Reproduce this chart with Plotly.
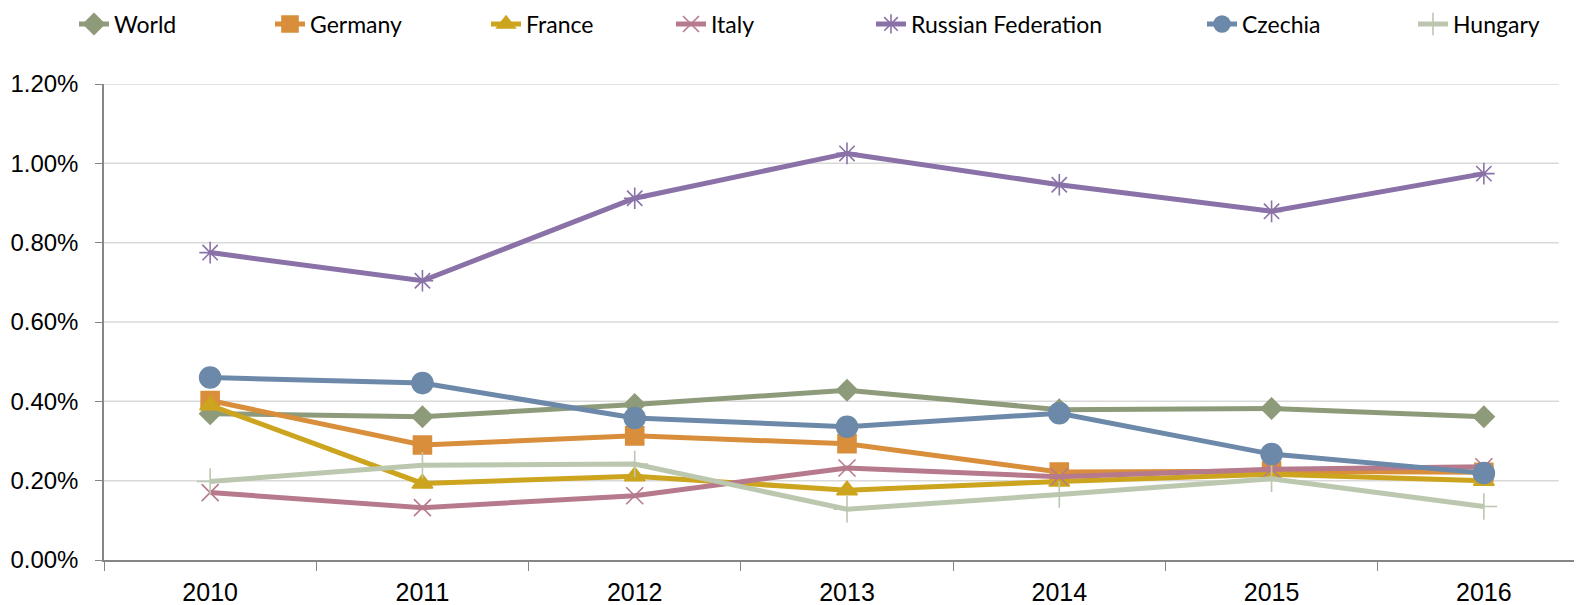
import plotly.graph_objects as go

years = ["2010", "2011", "2012", "2013", "2014", "2015", "2016"]
world = [0.00369, 0.00361, 0.00392, 0.00428, 0.00379, 0.00382, 0.00361]
germany = [0.00402, 0.00290, 0.00313, 0.00293, 0.00222, 0.00224, 0.00221]
france = [0.00390, 0.00193, 0.00211, 0.00176, 0.00198, 0.00216, 0.00200]
italy = [0.00170, 0.00132, 0.00162, 0.00232, 0.00210, 0.00229, 0.00235]
russia = [0.00775, 0.00704, 0.00912, 0.01025, 0.00946, 0.00879, 0.00974]
czechia = [0.00460, 0.00446, 0.00358, 0.00336, 0.00370, 0.00267, 0.00219]
hungary = [0.00198, 0.00239, 0.00242, 0.00128, 0.00165, 0.00205, 0.00135]
y_ticks = [0.0, 0.002, 0.004, 0.006, 0.008, 0.010, 0.012]

series = [
    ("World", world, "#8E9B7A", "diamond", 16),
    ("Germany", germany, "#D98E3C", "square", 18),
    ("France", france, "#CDA41E", "triangle-up", 18),
    ("Italy", italy, "#B67A8C", "x-thin-open", 17),
    ("Russian Federation", russia, "#8A72A8", "asterisk-open", 18),
    ("Czechia", czechia, "#6C89A9", "circle", 21),
    ("Hungary", hungary, "#BBC7AE", "cross-thin-open", 19),
]
# legend box left (figure px) per entry
legend_x_px = [66, 262, 478, 663, 863, 1194, 1405]

W, H = 1582, 605
fig = go.Figure()
layout_legends = {}
for i, (name, vals, col, sym, sz) in enumerate(series):
    lname = "legend" if i == 0 else f"legend{i+1}"
    fig.add_trace(go.Scatter(
        x=years, y=vals, name=name, mode="lines+markers",
        line=dict(color=col, width=5),
        marker=dict(symbol=sym, size=sz, color=col,
                    line=dict(color=col, width=1.6)),
        legend=lname,
    ))
    layout_legends[lname] = dict(
        orientation="h", xref="container", yref="container",
        x=legend_x_px[i] / W, xanchor="left",
        y=1 - 16 / H, yanchor="middle",
        font=dict(size=23, family="Lato, sans-serif", color="#000000"),
        bgcolor="rgba(0,0,0,0)", itemwidth=30,
    )

# horizontal gridlines ending slightly before the (cropped) right edge
for t in y_ticks[1:]:
    fig.add_shape(type="line", xref="paper", yref="y", x0=0, x1=0.979, y0=t, y1=t,
                  line=dict(color="#D9D9D9", width=1.5), layer="below")

fig.update_layout(
    width=W, height=H,
    margin=dict(l=96, r=0, t=76, b=53),
    paper_bgcolor="white", plot_bgcolor="white",
    font=dict(family="Liberation Sans, Arial, sans-serif", size=22, color="#000000"),
    showlegend=True,
    **layout_legends,
)
fig.update_xaxes(
    type="category", range=[-0.5, 6.5], tickson="boundaries", ticks="outside", ticklen=9,
    tickcolor="#868686", tickwidth=1.3, showline=True, linecolor="#868686", linewidth=1.5,
    showgrid=False, tickfont=dict(size=25), ticklabelstandoff=9, automargin=False,
)
fig.update_yaxes(
    range=[0, 0.012], tickvals=y_ticks, tickformat=".2%", ticks="outside", ticklen=7,
    tickcolor="#868686", tickwidth=1.3, showline=True, linecolor="#868686", linewidth=1.5,
    showgrid=False, zeroline=False, automargin=False,
    tickfont=dict(size=24), ticklabelstandoff=12,
)
fig.write_html("out.html")
